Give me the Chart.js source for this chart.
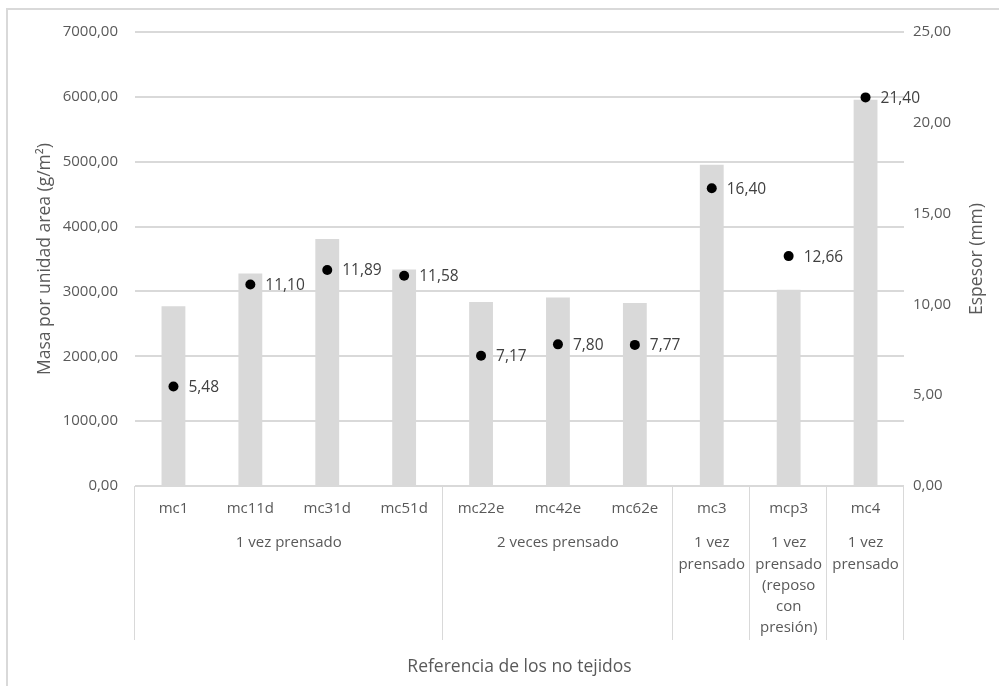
<!DOCTYPE html>
<html>
<head>
<meta charset="utf-8">
<script src="https://cdn.jsdelivr.net/npm/chart.js@4.4.1/dist/chart.umd.min.js"></script>
<style>
  html, body { margin: 0; padding: 0; background: #ffffff; }
  canvas { display: block; }
</style>
</head>
<body>
<canvas id="chart" width="999" height="686"></canvas>
<script>
// Sample references (first-level category labels)
const categories = ['mc1', 'mc11d', 'mc31d', 'mc51d', 'mc22e', 'mc42e', 'mc62e', 'mc3', 'mcp3', 'mc4'];

// Pressing process groups: label lines and how many samples each covers
const groupLabels = [
  ['1 vez prensado'],
  ['2 veces prensado'],
  ['1 vez', 'prensado'],
  ['1 vez', 'prensado', '(reposo', 'con', 'presión)'],
  ['1 vez', 'prensado']
];
const groupSizes = [4, 3, 1, 1, 1];

// Mass per unit area (g/m²) – bars, left axis
const masaValues = [2770, 3277, 3810, 3338, 2836, 2908, 2820, 4954, 3026, 5954];

// Thickness (mm) – points, right axis
const espesorValues = [5.48, 11.10, 11.89, 11.58, 7.17, 7.80, 7.77, 16.40, 12.66, 21.40];

const FONT = '"Open Sans", "Liberation Sans", sans-serif';
const TEXT = '#595959';
const GRID = '#d9d9d9';
const TITLE_SIZE = 17.5;

const fmt = (v, d) => v.toFixed(d).replace('.', ',');

// Frame lines, point value labels, right axis title and the grouped second row of the category axis
const decorations = {
  id: 'decorations',
  beforeDraw(chart) {
    const ctx = chart.ctx;
    ctx.save();
    ctx.fillStyle = GRID;
    ctx.fillRect(6, 8, 2, 686 - 8);
    ctx.fillRect(6, 8, 999 - 6, 2);
    ctx.restore();
  },
  afterDatasetsDraw(chart) {
    const ctx = chart.ctx;
    const meta = chart.getDatasetMeta(1);
    ctx.save();
    ctx.font = '15.5px ' + FONT;
    ctx.fillStyle = '#404040';
    ctx.textAlign = 'left';
    ctx.textBaseline = 'middle';
    meta.data.forEach((pt, i) => {
      ctx.fillText(fmt(espesorValues[i], 2), pt.x + 15, pt.y + 1);
    });
    ctx.restore();
  },
  afterDraw(chart) {
    const ctx = chart.ctx;
    const x = chart.scales.x;
    const area = chart.chartArea;
    const half = (x.getPixelForValue(1) - x.getPixelForValue(0)) / 2;
    const lineBottom = 640;
    ctx.save();
    // axis line
    ctx.strokeStyle = GRID;
    ctx.lineWidth = 1;
    ctx.beginPath();
    ctx.moveTo(area.left - 1, Math.round(area.bottom) + 0.5);
    ctx.lineTo(area.right - 1, Math.round(area.bottom) + 0.5);
    ctx.stroke();
    // group separators and labels
    ctx.font = '15px ' + FONT;
    ctx.fillStyle = TEXT;
    ctx.textAlign = 'center';
    ctx.textBaseline = 'middle';
    let start = 0;
    const drawSep = (px) => {
      ctx.beginPath();
      ctx.moveTo(Math.round(px) - 0.5, area.bottom);
      ctx.lineTo(Math.round(px) - 0.5, lineBottom);
      ctx.stroke();
    };
    drawSep(x.getPixelForValue(0) - half);
    groupSizes.forEach((n, g) => {
      const left = x.getPixelForValue(start) - half;
      const right = x.getPixelForValue(start + n - 1) + half;
      drawSep(right);
      const cx = (left + right) / 2;
      groupLabels[g].forEach((line, k) => {
        ctx.fillText(line, cx, 543 + k * 21.3);
      });
      start += n;
    });
    // right axis title, reading bottom to top
    ctx.translate(977, (area.top + area.bottom) / 2);
    ctx.rotate(-Math.PI / 2);
    ctx.font = TITLE_SIZE + 'px ' + FONT;
    ctx.fillText('Espesor (mm)', 0, 0);
    ctx.restore();
  }
};

new Chart(document.getElementById('chart'), {
  data: {
    labels: categories,
    datasets: [
      {
        type: 'bar',
        label: 'Masa por unidad area',
        data: masaValues,
        backgroundColor: '#d9d9d9',
        borderWidth: 0,
        yAxisID: 'y',
        barPercentage: 0.31,
        categoryPercentage: 1.0,
        order: 2
      },
      {
        type: 'line',
        label: 'Espesor',
        data: espesorValues,
        showLine: false,
        pointStyle: 'circle',
        pointRadius: 5,
        pointBackgroundColor: '#000000',
        pointBorderColor: '#000000',
        pointBorderWidth: 0,
        yAxisID: 'y1',
        clip: false,
        order: 1
      }
    ]
  },
  options: {
    responsive: false,
    devicePixelRatio: 1,
    animation: false,
    layout: { padding: { left: 8, right: 4, top: 32, bottom: 8 } },
    plugins: {
      legend: { display: false },
      tooltip: { enabled: false }
    },
    scales: {
      x: {
        type: 'category',
        grid: { display: false, drawTicks: false },
        border: { display: false },
        ticks: {
          color: TEXT,
          font: { family: FONT, size: 15 },
          padding: 14,
          maxRotation: 0,
          autoSkip: false
        },
        title: {
          display: true,
          text: 'Referencia de los no tejidos',
          color: TEXT,
          font: { family: FONT, size: TITLE_SIZE },
          padding: { top: 12.5, bottom: 0 }
        },
        afterFit(scale) { scale.height = 686 - 486 - 8; }
      },
      y: {
        position: 'left',
        min: 0,
        max: 7000,
        ticks: {
          stepSize: 1000,
          color: TEXT,
          font: { family: FONT, size: 15 },
          padding: 17,
          callback: (v) => fmt(v, 2)
        },
        grid: { color: GRID, lineWidth: 2, drawTicks: false },
        border: { display: false },
        title: {
          display: true,
          text: 'Masa por unidad area (g/m²)',
          color: TEXT,
          font: { family: FONT, size: TITLE_SIZE },
          padding: { top: 26.5, bottom: 0 }
        },
        afterFit(scale) { scale.width = 135 - 8; }
      },
      y1: {
        position: 'right',
        min: 0,
        max: 25,
        ticks: {
          stepSize: 5,
          color: TEXT,
          font: { family: FONT, size: 15 },
          padding: 9,
          callback: (v) => fmt(v, 2)
        },
        grid: { display: false, drawTicks: false },
        border: { display: false },
        title: { display: false },
        afterFit(scale) { scale.width = 999 - 904 - 4; }
      }
    }
  },
  plugins: [decorations]
});
</script>
</body>
</html>
